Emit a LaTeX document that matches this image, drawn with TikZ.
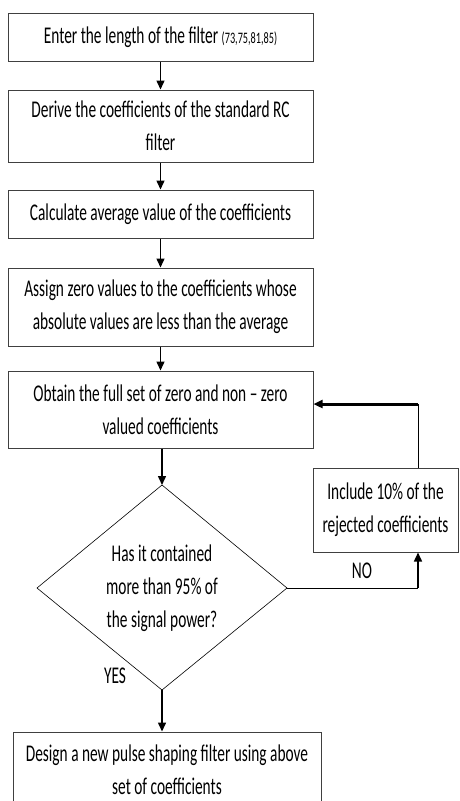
\documentclass[tikz,border=0pt]{standalone}
\usepackage{fontspec}
\setmainfont[FakeStretch=0.64]{Carlito}
\usetikzlibrary{arrows.meta, positioning}

\begin{document}
\begin{tikzpicture}[%
    >= {Triangle[length=9pt, width=8pt]},
    node distance = 90pt,
    on grid,
    every node/.style = {font=\fontsize{24}{33}\selectfont},
    stepbox/.style = {%
      draw = black!75,
      line width = 1pt,
      rectangle,
      minimum width = 305pt,
      align = center,
      inner sep = 0pt },
    flow/.style = {->, line width = 1.5pt},
    back/.style = {->, line width = 3pt}
  ]

\useasboundingbox (0,0) rectangle (459pt,-801pt);

\node[stepbox, minimum height=48pt] (enter) at (160.5pt,-37pt)
  {Enter the length of the filter {\fontsize{16}{17}\selectfont(73,75,81,85)}};
\node[stepbox, minimum height=72pt] (derive) [below=89pt of enter]
  {Derive the coefficients of the standard RC\\filter};
\node[stepbox, minimum height=48pt] (average) [below=88pt of derive]
  {Calculate average value of the coefficients};
\node[stepbox, minimum height=78pt] (assign) [below=93pt of average]
  {Assign zero values to the coefficients whose\\absolute values are less than the average};
\node[stepbox, minimum height=77pt] (obtain) [below=102.5pt of assign]
  {Obtain the full set of zero and non -- zero\\valued coefficients};

% decision
\coordinate (dtop) at (162pt,-485pt);
\coordinate (dright) at (287pt,-588pt);
\coordinate (dbot) at (162pt,-690pt);
\coordinate (dleft) at (37pt,-588pt);
\draw[line width=0.6pt] (dtop) -- (dright) -- (dbot) -- (dleft) -- cycle;
\node[align=center] (check) at (162pt,-588pt)
  {Has it contained\\more than 95\% of\\the signal power?};

\node[stepbox, minimum width=308pt, minimum height=76pt] (design) at (167pt,-770pt)
  {Design a new pulse shaping filter using above\\set of coefficients};
\node[stepbox, minimum width=145pt, minimum height=84pt] (include) at (385.5pt,-510pt)
  {Include 10\% of the\\rejected coefficients};

\node (yes) at (115pt,-676pt) {YES};
\node (no) at (362pt,-571pt) {NO};

\draw[flow] (enter) -- (derive);
\draw[flow] (derive) -- (average);
\draw[flow] (average) -- (assign);
\draw[flow] (assign) -- (obtain);
\draw[flow] (obtain.south -| dtop) -- (dtop);
\draw[flow] (dbot) -- (dbot |- design.north);

\coordinate (noturn) at (418pt,-588pt);
\coordinate (upturn) at (418pt,-404pt);
\draw[line width=1pt] (dright) -- (noturn);
\draw[flow] (noturn) -- (noturn |- include.south);
\draw[line width=1pt] (upturn |- include.north) -- (upturn);
\draw[back] (upturn) -- (upturn -| obtain.east);

\end{tikzpicture}
\end{document}
